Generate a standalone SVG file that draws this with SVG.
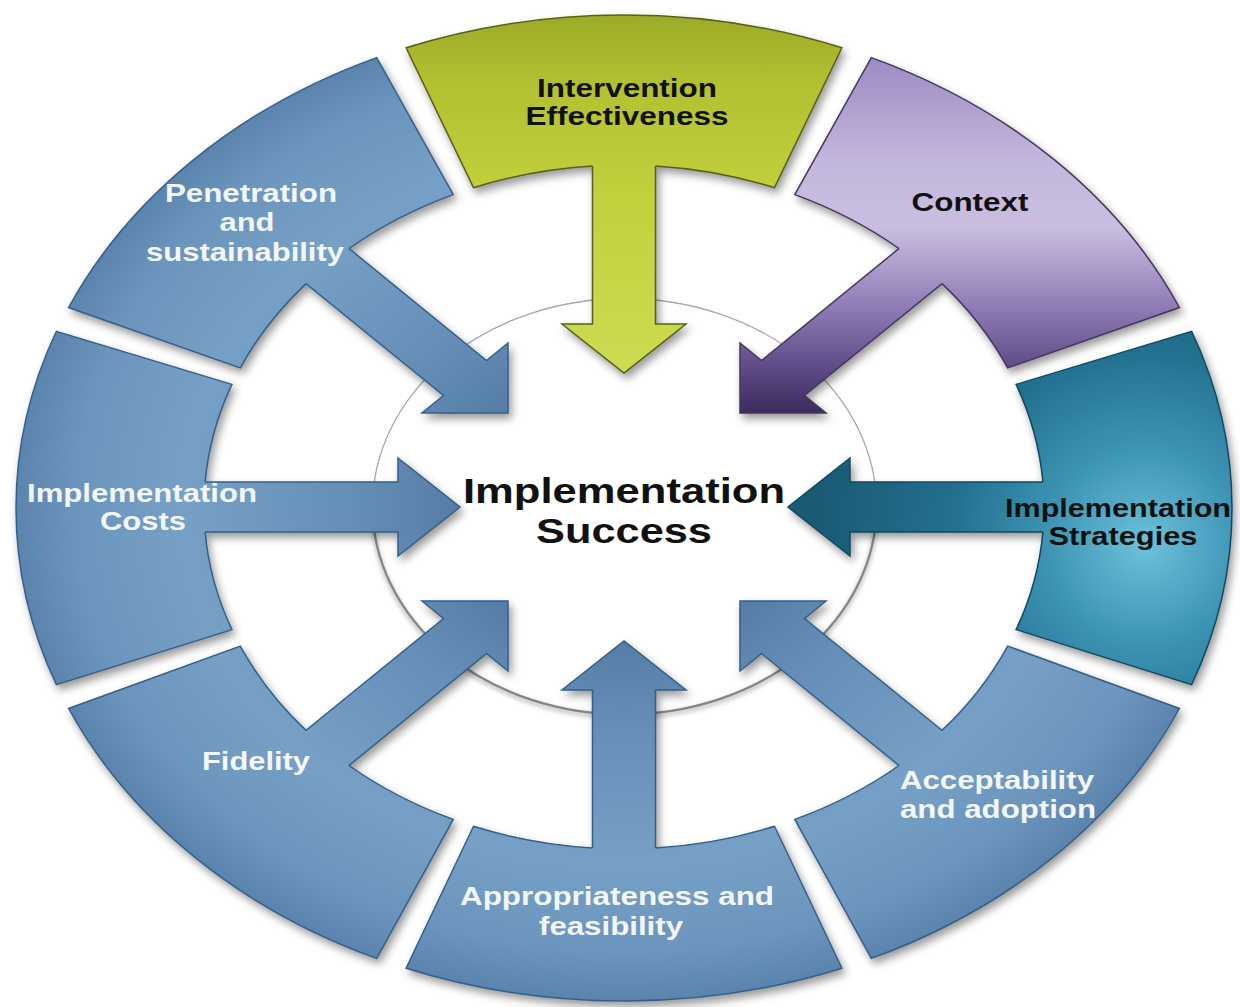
<svg xmlns="http://www.w3.org/2000/svg" xmlns:xlink="http://www.w3.org/1999/xlink" width="1240" height="1007" viewBox="0 0 1240 1007">
<defs>
<style>
.lbl{font-family:"Liberation Sans",Arial,Helvetica,sans-serif;font-weight:bold;font-size:25px;text-anchor:middle}
.big{font-size:35px}
.w{fill:#f3f7fb}
.k{fill:#111111}
.blue{fill:url(#gBlue);stroke:#33608a;stroke-width:1.5;stroke-linejoin:miter}
.green{fill:url(#gGreen);stroke:#55611a;stroke-width:1.5}
.purple{fill:url(#gPurple);stroke:#45365f;stroke-width:1.5}
.teal{fill:url(#gTeal);stroke:#0f4a60;stroke-width:1.5}
</style>
<radialGradient id="gBlue" gradientUnits="userSpaceOnUse" cx="624" cy="507" r="610" gradientTransform="translate(624 507) scale(1 0.81) translate(-624 -507)">
<stop offset="0" stop-color="#4a7099"/>
<stop offset="0.28" stop-color="#567da6"/>
<stop offset="0.45" stop-color="#668fb8"/>
<stop offset="0.72" stop-color="#77a0c6"/>
<stop offset="0.9" stop-color="#6c95bd"/>
<stop offset="1" stop-color="#5a84ad"/>
</radialGradient>
<linearGradient id="gGreen" gradientUnits="userSpaceOnUse" x1="0" y1="15" x2="0" y2="375">
<stop offset="0" stop-color="#9cab26"/>
<stop offset="0.2" stop-color="#b3c132"/>
<stop offset="0.5" stop-color="#c2d03c"/>
<stop offset="1" stop-color="#cedb52"/>
</linearGradient>
<linearGradient id="gPurple" gradientUnits="userSpaceOnUse" x1="0" y1="55" x2="0" y2="415">
<stop offset="0" stop-color="#9c8ac2"/>
<stop offset="0.3" stop-color="#c4b7dc"/>
<stop offset="0.48" stop-color="#c9bee0"/>
<stop offset="0.7" stop-color="#8f7bb5"/>
<stop offset="0.87" stop-color="#5e4a86"/>
<stop offset="1" stop-color="#3b2a5c"/>
</linearGradient>
<radialGradient id="gTeal" gradientUnits="userSpaceOnUse" cx="1145" cy="545" r="330">
<stop offset="0" stop-color="#6cc2da"/>
<stop offset="0.3" stop-color="#3d93b3"/>
<stop offset="0.6" stop-color="#226f8e"/>
<stop offset="1" stop-color="#1a5a74"/>
</radialGradient>
<filter id="ds" x="-5%" y="-5%" width="112%" height="114%">
<feGaussianBlur in="SourceAlpha" stdDeviation="4"/>
<feOffset dx="3" dy="5" result="o"/>
<feFlood flood-color="#000000" flood-opacity="0.4"/>
<feComposite in2="o" operator="in"/>
</filter>
<filter id="soft" x="-10%" y="-10%" width="120%" height="130%">
<feGaussianBlur stdDeviation="2"/>
</filter>
</defs>
<rect width="1240" height="1007" fill="#ffffff"/>

<g id="node-implementation-success">
<ellipse cx="624.5" cy="506.5" rx="252" ry="208" fill="none" stroke="#a8a8a8" stroke-width="1.3"/>
<path d="M372.5,509 A252,208 0 0 0 876.5,509" fill="none" stroke="#9a9a9a" stroke-width="4" opacity="0.6" filter="url(#soft)"/>
<path d="M372.5,506.5 A252,208 0 0 0 876.5,506.5" fill="none" stroke="#858585" stroke-width="2.2"/>
<text class="lbl big k" x="624" y="503" textLength="322" lengthAdjust="spacingAndGlyphs">Implementation</text>
<text class="lbl big k" x="624" y="543" textLength="176" lengthAdjust="spacingAndGlyphs">Success</text>
</g>

<g id="shadow-layer" filter="url(#ds)">
<use xlink:href="#arr-pen"/><use xlink:href="#arr-int"/><use xlink:href="#arr-ctx"/><use xlink:href="#arr-str"/>
<use xlink:href="#arr-acc"/><use xlink:href="#arr-app"/><use xlink:href="#arr-fid"/><use xlink:href="#arr-cos"/>
<use xlink:href="#seg-pen"/><use xlink:href="#seg-int"/><use xlink:href="#seg-ctx"/><use xlink:href="#seg-str"/>
<use xlink:href="#seg-acc"/><use xlink:href="#seg-app"/><use xlink:href="#seg-fid"/><use xlink:href="#seg-cos"/>
</g>

<g id="connectors">
<path id="arr-pen" class="blue" d="M333.5,235.9 L486.5,360.5 L508,343 L508,413 L422,413 L443.5,395.5 L290.5,271 Z"/>
<path id="arr-int" class="green" d="M592.5,146 L592.5,324 L562,324 L624,373 L686,324 L655.5,324 L655.5,146 Z"/>
<path id="arr-ctx" class="purple" d="M914.5,235.9 L761.5,360.5 L740,343 L740,413 L826,413 L804.5,395.5 L957.5,271 Z"/>
<path id="arr-str" class="teal" d="M1063,482 L850,482 L850,458 L788,507 L850,556 L850,532 L1063,532 Z"/>
<path id="arr-acc" class="blue" d="M914.5,778.1 L761.5,653.5 L740,671 L740,601 L826,601 L804.5,618.5 L957.5,743 Z"/>
<path id="arr-app" class="blue" d="M592.5,868 L592.5,690 L562,690 L624,641 L686,690 L655.5,690 L655.5,868 Z"/>
<path id="arr-fid" class="blue" d="M333.5,778.1 L486.5,653.5 L508,671 L508,601 L422,601 L443.5,618.5 L290.5,743 Z"/>
<path id="arr-cos" class="blue" d="M185,482 L398,482 L398,458 L460,507 L398,556 L398,532 L185,532 Z"/>
</g>

<g id="node-penetration">
<path id="seg-pen" class="blue" d="M306,283.6 A420,342 0 0 0 240.3,367.9 L68.6,307.5 A608,493 0 0 1 376.7,57.6 L453.2,194.6 A420,342 0 0 0 349,248.5"/>
<text class="lbl w" x="251" y="202" textLength="172" lengthAdjust="spacingAndGlyphs">Penetration</text>
<text class="lbl w" x="247" y="231" textLength="55" lengthAdjust="spacingAndGlyphs">and</text>
<text class="lbl w" x="245" y="261" textLength="198" lengthAdjust="spacingAndGlyphs">sustainability</text>
</g>

<g id="node-intervention-effectiveness">
<path id="seg-int" class="green" d="M592.5,166 A420,342 0 0 0 473.5,187.7 L406.1,47.8 A608,493 0 0 1 841.9,47.8 L774.5,187.7 A420,342 0 0 0 655.5,166"/>
<text class="lbl k" x="627" y="97" textLength="180" lengthAdjust="spacingAndGlyphs">Intervention</text>
<text class="lbl k" x="627" y="125" textLength="203" lengthAdjust="spacingAndGlyphs">Effectiveness</text>
</g>

<g id="node-context">
<path id="seg-ctx" class="purple" d="M899,248.5 A420,342 0 0 0 794.8,194.6 L871.3,57.6 A608,493 0 0 1 1179.4,307.5 L1007.7,367.9 A420,342 0 0 0 942,283.6"/>
<text class="lbl k" x="970" y="211" textLength="117" lengthAdjust="spacingAndGlyphs">Context</text>
</g>

<g id="node-implementation-strategies">
<path id="seg-str" class="teal" d="M1042.9,482 A420,342 0 0 0 1016.1,384.4 L1191.6,331.3 A608,493 0 0 1 1191.6,684.7 L1016.1,629.6 A420,342 0 0 0 1042.9,532"/>
<text class="lbl k" x="1118" y="517" textLength="226" lengthAdjust="spacingAndGlyphs">Implementation</text>
<text class="lbl k" x="1123" y="545" textLength="149" lengthAdjust="spacingAndGlyphs">Strategies</text>
</g>

<g id="node-acceptability">
<path id="seg-acc" class="blue" d="M942,730.4 A420,342 0 0 0 1007.7,646.1 L1179.4,708.5 A608,493 0 0 1 871.3,958.4 L794.8,819.4 A420,342 0 0 0 899,765.5"/>
<text class="lbl w" x="997" y="789" textLength="194" lengthAdjust="spacingAndGlyphs">Acceptability</text>
<text class="lbl w" x="998" y="818" textLength="196" lengthAdjust="spacingAndGlyphs">and adoption</text>
</g>

<g id="node-appropriateness">
<path id="seg-app" class="blue" d="M655.5,848 A420,342 0 0 0 774.5,826.3 L841.9,968.2 A608,493 0 0 1 406.1,968.2 L473.5,826.3 A420,342 0 0 0 592.5,848"/>
<text class="lbl w" x="617" y="905" textLength="314" lengthAdjust="spacingAndGlyphs">Appropriateness and</text>
<text class="lbl w" x="611" y="935" textLength="144" lengthAdjust="spacingAndGlyphs">feasibility</text>
</g>

<g id="node-fidelity">
<path id="seg-fid" class="blue" d="M349,765.5 A420,342 0 0 0 453.2,819.4 L376.7,958.4 A608,493 0 0 1 68.6,708.5 L240.3,646.1 A420,342 0 0 0 306,730.4"/>
<text class="lbl w" x="256" y="770" textLength="108" lengthAdjust="spacingAndGlyphs">Fidelity</text>
</g>

<g id="node-implementation-costs">
<path id="seg-cos" class="blue" d="M205.1,532 A420,342 0 0 0 231.9,629.6 L56.4,684.7 A608,493 0 0 1 56.4,331.3 L231.9,384.4 A420,342 0 0 0 205.1,482"/>
<text class="lbl w" x="142" y="502" textLength="230" lengthAdjust="spacingAndGlyphs">Implementation</text>
<text class="lbl w" x="143" y="530" textLength="86" lengthAdjust="spacingAndGlyphs">Costs</text>
</g>
</svg>
